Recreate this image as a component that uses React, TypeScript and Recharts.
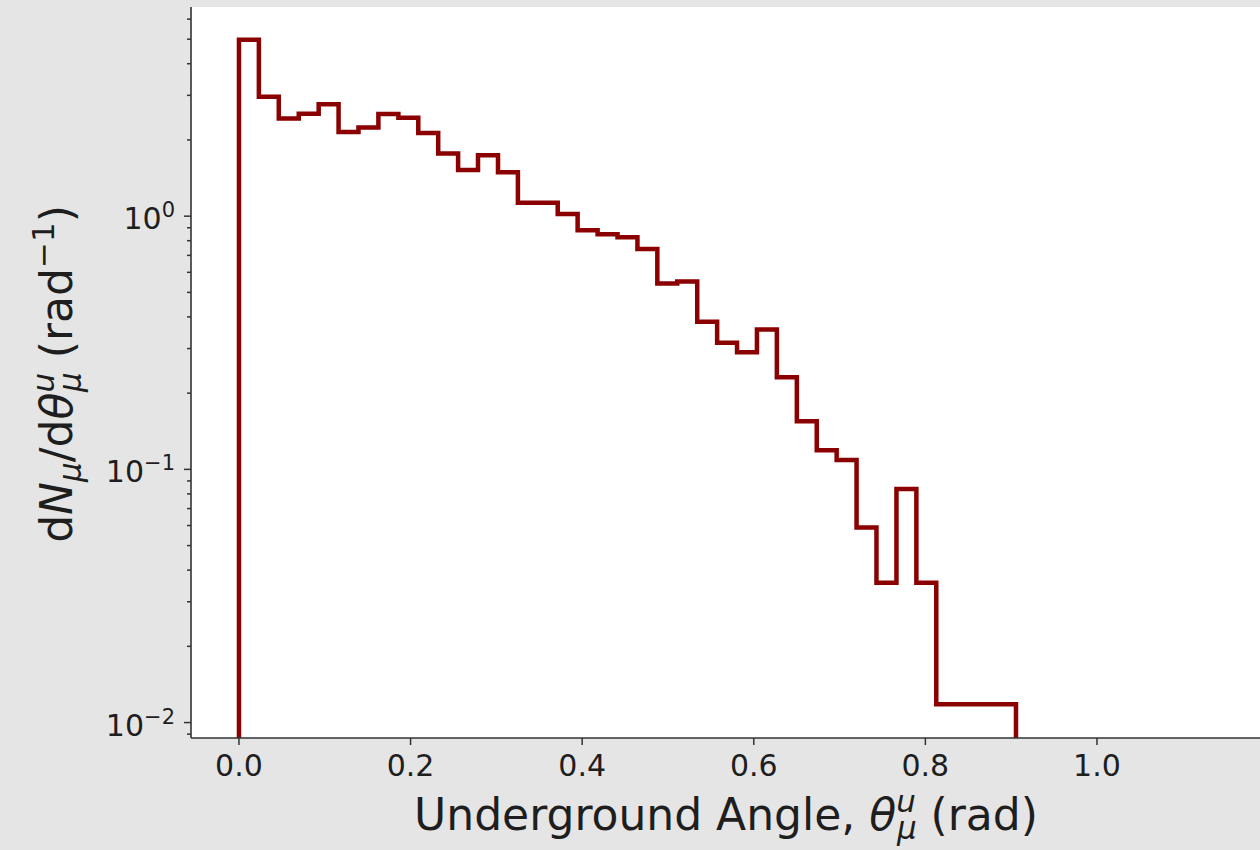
import React from 'react';
import { LineChart, Line, XAxis, YAxis, CartesianGrid } from 'recharts';

// histogram bin edges (rad) and density per bin (rad^-1)
const binEdges = [
  0, 0.0232, 0.0464, 0.0697, 0.0929, 0.1161, 0.1393, 0.1625, 0.1858, 0.209,
  0.2322, 0.2554, 0.2786, 0.3019, 0.3251, 0.3483, 0.3715, 0.3947, 0.418, 0.4412,
  0.4644, 0.4876, 0.5108, 0.5341, 0.5573, 0.5805, 0.6037, 0.6269, 0.6502, 0.6734,
  0.6966, 0.7198, 0.743, 0.7663, 0.7895, 0.8127, 0.8359, 0.8591, 0.8824, 0.9056,
];

const density = [
  4.97, 2.96, 2.43, 2.54, 2.77, 2.15, 2.24, 2.53, 2.45, 2.13,
  1.77, 1.52, 1.74, 1.49, 1.13, 1.13, 1.02, 0.88, 0.849, 0.826,
  0.741, 0.542, 0.552, 0.383, 0.316, 0.29, 0.357, 0.231, 0.155, 0.119,
  0.109, 0.059, 0.0357, 0.0836, 0.0357, 0.0118, 0.0118, 0.0118, 0.0118,
];

const xTicks = [0, 0.2, 0.4, 0.6, 0.8, 1.0];
const yMajorTicks = [0.01, 0.1, 1];
const yMajorExponents = ['\u22122', '\u22121', '0'];
const yMinorTicks = [
  0.009, 0.02, 0.03, 0.04, 0.05, 0.06, 0.07, 0.08, 0.09,
  0.2, 0.3, 0.4, 0.5, 0.6, 0.7, 0.8, 0.9, 2, 3, 4, 5, 6,
];

const X_DOMAIN: [number, number] = [-0.0559, 1.19];
const Y_DOMAIN: [number, number] = [0.00869, 6.7];

const FONT = '"DejaVu Sans", sans-serif';
const SPINE = '#333333';
const TEXT = '#1e1e1e';

// step outline: rise at the first edge, one point per bin, drop at the last edge
const stepData = [
  { x: binEdges[0], y: Y_DOMAIN[0] },
  ...density.map((v, i) => ({ x: binEdges[i], y: v })),
  { x: binEdges[binEdges.length - 1], y: Y_DOMAIN[0] },
];

const LogTick = (props: any) => {
  const { x, y, payload } = props;
  const idx = yMajorTicks.findIndex((m) => Math.abs(m - payload.value) < 1e-9);
  const major = idx >= 0;
  const len = major ? 7 : 4;
  return (
    <g>
      <line x1={x - len} x2={x} y1={y} y2={y} stroke={SPINE} strokeWidth={1.5} />
      {major && (
        <text x={x - 16} y={y + 13} textAnchor="end" fontSize={30} fill={TEXT} fontFamily={FONT}>
          10
          <tspan dy={-12} fontSize={21}>{yMajorExponents[idx]}</tspan>
        </text>
      )}
    </g>
  );
};

export default function App() {
  return (
    <div style={{ position: 'absolute', left: 0, top: 0, width: 1260, height: 850, background: '#e5e5e5', overflow: 'hidden' }}>
      <LineChart width={1260} height={850} data={stepData} margin={{ top: 7, right: 0, bottom: 0, left: 0 }}>
        <CartesianGrid fill="#ffffff" stroke="none" horizontal={false} vertical={false} />
        <XAxis
          dataKey="x"
          type="number"
          domain={X_DOMAIN}
          allowDataOverflow
          ticks={xTicks}
          interval={0}
          height={112}
          tickFormatter={(v: number) => v.toFixed(1)}
          tick={{ fontSize: 30, fill: TEXT, fontFamily: FONT }}
          tickSize={7}
          tickMargin={10}
          tickLine={{ stroke: SPINE, strokeWidth: 1.5 }}
          axisLine={{ stroke: SPINE, strokeWidth: 1.6 }}
        />
        <XAxis
          xAxisId="top"
          orientation="top"
          type="number"
          domain={X_DOMAIN}
          allowDataOverflow
          height={0}
          tick={false}
          tickLine={false}
          axisLine={{ stroke: SPINE, strokeWidth: 1.6 }}
        />
        <YAxis
          type="number"
          scale="log"
          domain={Y_DOMAIN}
          allowDataOverflow
          ticks={[...yMinorTicks, ...yMajorTicks].sort((a, b) => a - b)}
          interval={0}
          width={191}
          tickSize={0}
          tickMargin={0}
          tickLine={false}
          tick={<LogTick />}
          axisLine={{ stroke: SPINE, strokeWidth: 1.6 }}
        />
        <Line
          dataKey="y"
          type="stepAfter"
          stroke="#8b0000"
          strokeWidth={4.5}
          strokeLinejoin="miter"
          dot={false}
          isAnimationActive={false}
        />
      </LineChart>
      <svg width={1260} height={850} style={{ position: 'absolute', left: 0, top: 0, pointerEvents: 'none' }}>
        <text x={726} y={830} textAnchor="middle" fontSize={44} fill={TEXT} fontFamily={FONT}>
          {'Underground Angle, '}
          <tspan fontStyle="italic">θ</tspan>
          <tspan fontSize={31} fontStyle="italic" dy={-18}>u</tspan>
          <tspan fontSize={31} fontStyle="italic" dx={-19} dy={27}>μ</tspan>
          <tspan dy={-9}>{' (rad)'}</tspan>
        </text>
        <g transform="translate(72,374) rotate(-90)">
          <text x={0} y={0} textAnchor="middle" fontSize={44} fill={TEXT} fontFamily={FONT}>
            d
            <tspan fontStyle="italic">N</tspan>
            <tspan fontSize={31} fontStyle="italic" dy={9}>μ</tspan>
            <tspan dy={-9}>/d</tspan>
            <tspan fontStyle="italic">θ</tspan>
            <tspan fontSize={31} fontStyle="italic" dy={-18}>u</tspan>
            <tspan fontSize={31} fontStyle="italic" dx={-19} dy={27}>μ</tspan>
            <tspan dy={-9}>{' (rad'}</tspan>
            <tspan fontSize={31} dy={-18}>{'\u22121'}</tspan>
            <tspan dy={18}>)</tspan>
          </text>
        </g>
      </svg>
    </div>
  );
}
